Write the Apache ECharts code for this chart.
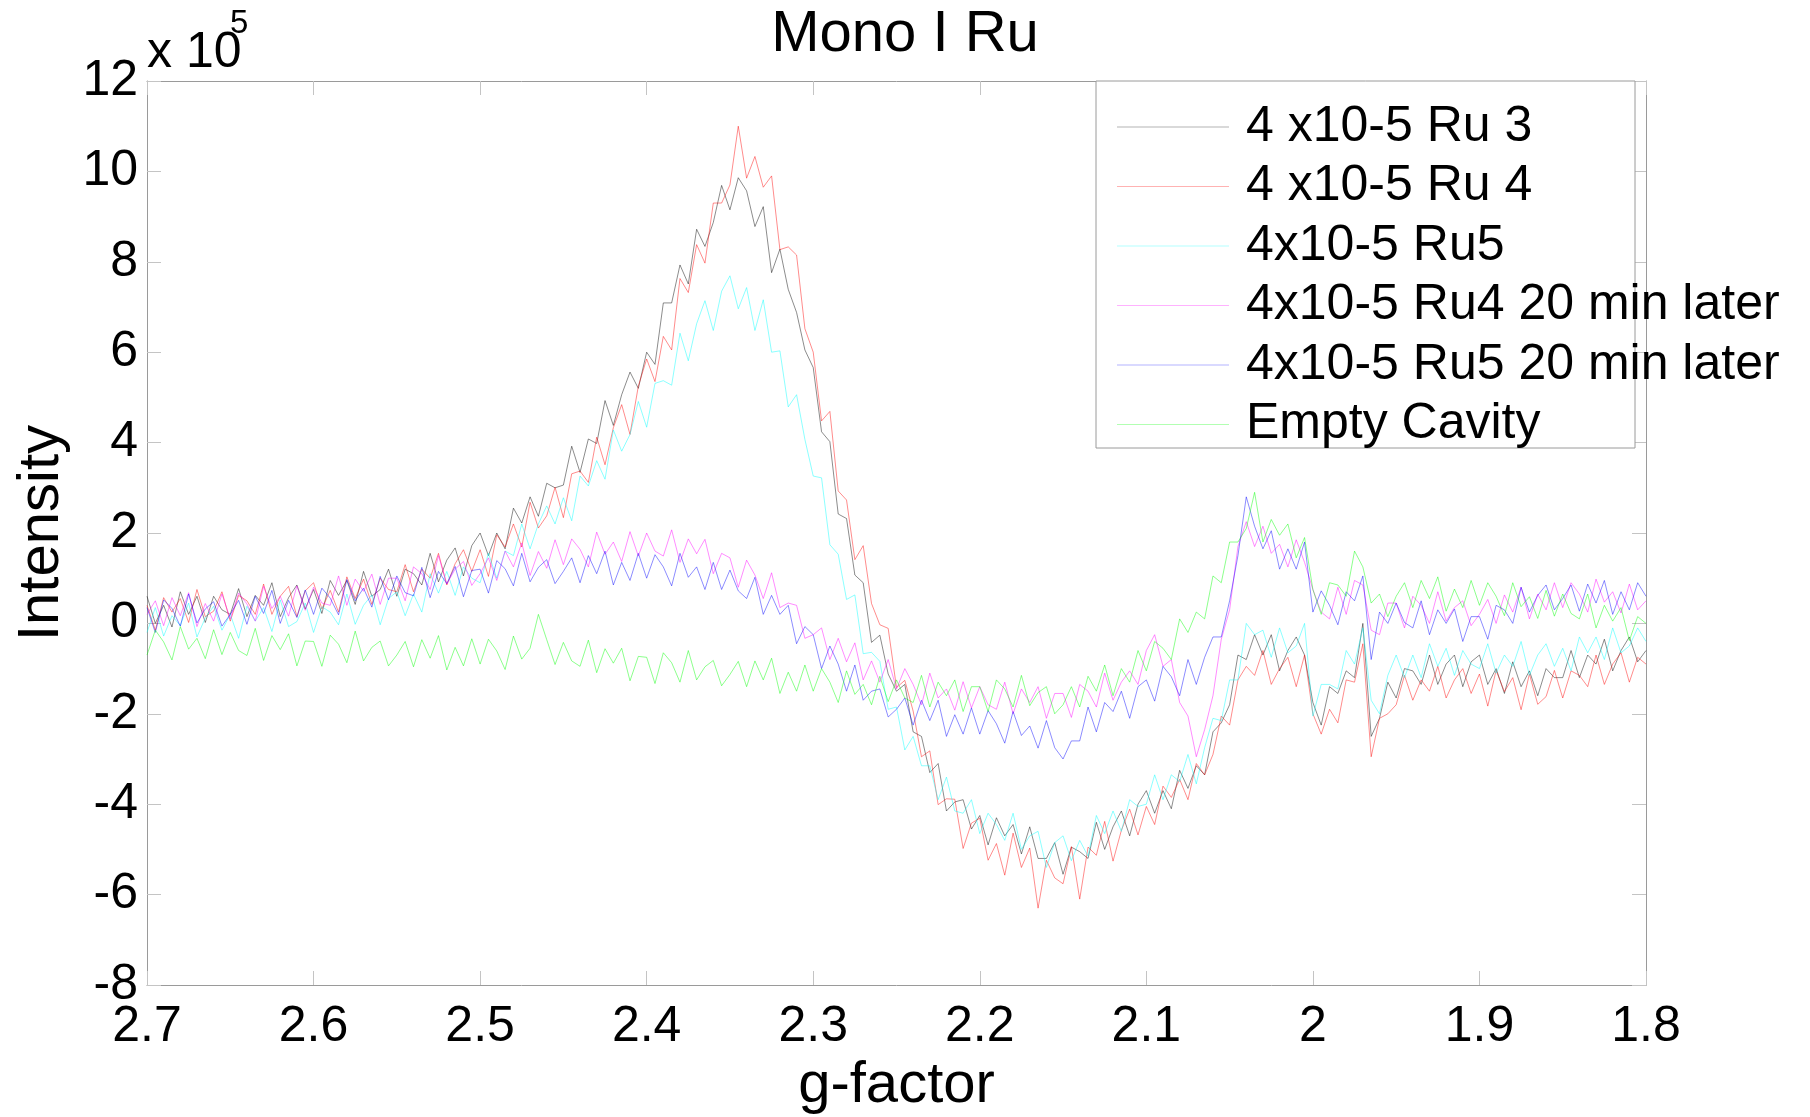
<!DOCTYPE html>
<html>
<head>
<meta charset="utf-8">
<title>Mono I Ru</title>
<script src="https://cdn.jsdelivr.net/npm/echarts@6/dist/echarts.min.js"></script>
<style>
  html, body { margin: 0; padding: 0; background: #fff; }
  #main { width: 1810px; height: 1117px; }
</style>
</head>
<body>
<div id="main"></div>
<script>
// g-factor of every sample (x axis runs from 2.7 down to 1.8)
const gFactor = [
  2.700,2.695,2.690,2.685,2.680,2.675,2.670,2.665,2.660,2.655,
  2.650,2.645,2.640,2.635,2.630,2.625,2.620,2.615,2.610,2.605,
  2.600,2.595,2.590,2.585,2.580,2.575,2.570,2.565,2.560,2.555,
  2.550,2.545,2.540,2.535,2.530,2.525,2.520,2.515,2.510,2.505,
  2.500,2.495,2.490,2.485,2.480,2.475,2.470,2.465,2.460,2.455,
  2.450,2.445,2.440,2.435,2.430,2.425,2.420,2.415,2.410,2.405,
  2.400,2.395,2.390,2.385,2.380,2.375,2.370,2.365,2.360,2.355,
  2.350,2.345,2.340,2.335,2.330,2.325,2.320,2.315,2.310,2.305,
  2.300,2.295,2.290,2.285,2.280,2.275,2.270,2.265,2.260,2.255,
  2.250,2.245,2.240,2.235,2.230,2.225,2.220,2.215,2.210,2.205,
  2.200,2.195,2.190,2.185,2.180,2.175,2.170,2.165,2.160,2.155,
  2.150,2.145,2.140,2.135,2.130,2.125,2.120,2.115,2.110,2.105,
  2.100,2.095,2.090,2.085,2.080,2.075,2.070,2.065,2.060,2.055,
  2.050,2.045,2.040,2.035,2.030,2.025,2.020,2.015,2.010,2.005,
  2.000,1.995,1.990,1.985,1.980,1.975,1.970,1.965,1.960,1.955,
  1.950,1.945,1.940,1.935,1.930,1.925,1.920,1.915,1.910,1.905,
  1.900,1.895,1.890,1.885,1.880,1.875,1.870,1.865,1.860,1.855,
  1.850,1.845,1.840,1.835,1.830,1.825,1.820,1.815,1.810,1.805,
  1.800
];

// intensities, in units of 10^5
const ru3 = [
  0.60,0.00,0.40,-0.08,0.70,0.20,0.60,0.02,0.60,0.30,
  0.20,0.77,0.15,0.62,0.40,0.90,0.15,0.57,0.85,0.32,
  0.75,0.22,0.95,0.62,0.95,0.42,1.15,0.60,0.75,1.20,
  0.60,1.20,1.10,0.85,1.55,0.92,1.40,1.67,1.05,1.72,
  2.00,1.50,2.00,1.65,2.55,2.22,2.80,2.37,3.10,3.00,
  3.06,3.92,3.34,4.08,3.98,4.93,4.38,5.06,5.56,5.20,
  6.00,5.73,7.09,7.09,7.93,7.51,8.72,8.34,8.87,9.69,
  9.15,9.86,9.57,8.78,9.22,7.76,8.28,7.39,6.88,6.05,
  5.66,4.24,4.02,2.42,2.32,1.07,0.90,-0.42,-0.26,-1.12,
  -1.50,-1.35,-2.40,-2.50,-3.30,-3.10,-4.15,-3.95,-3.90,-4.55,
  -4.25,-4.90,-4.30,-4.70,-4.45,-5.10,-4.50,-5.20,-5.20,-4.85,
  -5.55,-4.95,-5.05,-5.20,-4.40,-5.00,-4.50,-4.15,-4.70,-4.00,
  -3.70,-4.20,-3.70,-4.10,-3.25,-3.65,-3.15,-3.35,-2.40,-2.20,
  -1.80,-0.70,-0.80,-0.25,-0.70,-0.25,-1.05,-0.60,-0.30,-0.70,
  -1.75,-2.25,-1.40,-1.55,-1.05,-1.20,0.00,-2.50,-2.10,-1.30,
  -1.65,-1.00,-1.05,-1.35,-0.70,-1.35,-0.90,-0.70,-1.40,-0.85,
  -0.70,-1.35,-1.00,-1.55,-0.85,-1.40,-1.05,-1.60,-1.00,-1.20,
  -1.20,-0.60,-1.20,-0.70,-0.90,-0.35,-1.05,-0.60,-0.30,-0.85,
  -0.60
];
const ru4 = [
  0.40,-0.15,0.57,0.25,0.55,0.02,0.75,0.15,0.27,0.70,
  0.05,0.62,0.50,0.20,0.87,0.20,0.60,0.82,0.15,0.72,
  0.90,0.32,0.73,0.25,1.03,0.55,0.98,0.42,1.00,0.75,
  0.70,1.30,0.70,1.20,1.00,1.55,0.85,1.32,1.63,1.15,
  1.63,1.04,1.96,1.69,2.20,1.69,2.68,2.11,2.38,3.01,
  2.34,3.31,3.37,3.12,4.12,3.51,4.33,4.84,4.18,5.25,
  5.85,5.35,6.35,6.05,7.63,7.32,8.38,7.97,9.30,9.30,
  9.70,11.00,9.85,10.33,9.65,9.90,8.27,8.33,8.15,6.52,
  6.00,4.48,4.69,2.93,2.73,1.41,1.72,0.44,-0.03,-0.11,
  -1.42,-1.26,-1.94,-2.95,-2.82,-4.01,-3.88,-3.89,-4.98,-4.42,
  -4.31,-5.24,-4.87,-5.57,-4.64,-5.40,-4.97,-6.30,-5.24,-5.63,
  -5.76,-4.94,-6.10,-4.95,-5.13,-4.38,-5.26,-4.58,-4.11,-4.68,
  -4.05,-4.45,-3.60,-3.85,-3.45,-3.90,-3.10,-3.35,-2.90,-2.05,
  -2.25,-1.25,-0.95,-1.15,-0.60,-1.35,-1.00,-0.75,-1.40,-0.70,
  -2.00,-2.45,-1.90,-2.20,-1.25,-1.30,-0.45,-2.95,-2.10,-2.00,
  -1.80,-1.15,-1.70,-1.25,-1.50,-0.95,-1.65,-1.25,-1.00,-1.55,
  -1.12,-1.83,-1.04,-1.51,-1.20,-1.91,-1.12,-1.79,-1.62,-1.04,
  -1.65,-1.05,-1.15,-1.40,-0.70,-1.35,-0.90,-0.65,-1.30,-0.75,
  -0.90
];
const ru5 = [
  -0.20,0.35,-0.28,0.17,-0.05,0.45,-0.30,0.12,0.38,-0.15,
  0.20,-0.33,0.38,0.05,0.35,-0.18,0.52,-0.07,0.04,0.45,
  -0.20,0.37,0.25,-0.03,0.65,-0.02,0.40,0.63,-0.03,0.55,
  0.70,0.17,0.65,0.25,1.10,0.67,1.15,0.62,1.25,1.00,
  0.90,1.55,1.00,1.60,1.50,2.20,1.65,2.20,2.60,2.20,
  2.78,2.27,3.26,3.04,3.60,3.19,4.28,3.81,4.18,4.91,
  4.34,5.31,5.37,5.27,6.42,5.81,6.63,7.14,6.48,7.35,
  7.69,6.96,7.43,6.48,7.16,6.00,6.03,4.79,5.06,4.07,
  3.26,3.22,1.74,1.53,0.53,0.63,-0.67,-0.64,-0.84,-1.90,
  -1.85,-2.80,-2.50,-3.15,-3.15,-3.90,-3.40,-4.15,-4.20,-3.90,
  -4.65,-4.20,-4.45,-4.80,-4.20,-5.00,-4.70,-4.60,-5.40,-4.85,
  -4.70,-5.25,-4.80,-5.15,-4.25,-4.65,-4.15,-4.60,-3.90,-4.05,
  -4.00,-3.35,-3.90,-3.35,-3.50,-2.90,-3.55,-2.75,-2.10,-2.15,
  -1.25,-1.25,0.00,-0.25,-0.15,-0.75,-0.10,-0.65,-0.50,0.00,
  -2.05,-1.35,-1.35,-1.45,-0.60,-0.90,-0.10,-1.70,-2.00,-1.15,
  -0.70,-1.20,-0.70,-1.20,-0.45,-0.95,-0.55,-1.15,-0.60,-0.90,
  -1.00,-0.45,-1.10,-0.70,-0.95,-0.40,-1.15,-0.70,-0.45,-0.95,
  -0.55,-1.05,-0.30,-0.65,-0.30,-0.80,-0.10,-0.65,-0.50,-0.10,
  -0.40
];
const ru4Later = [
  0.20,0.50,-0.05,0.57,0.17,0.68,-0.07,0.44,0.05,0.65,
  0.10,0.67,0.43,0.05,0.82,0.33,0.60,0.16,0.83,0.29,
  0.80,0.45,0.40,1.05,0.40,0.98,0.71,1.09,0.42,1.00,
  1.00,0.50,1.25,1.10,0.75,1.50,0.87,1.20,1.37,0.84,
  1.10,1.45,0.95,1.60,1.25,1.78,1.06,1.59,1.22,1.85,
  1.30,1.87,1.64,1.25,2.02,1.53,1.80,1.37,2.03,1.49,
  2.00,1.60,1.49,2.07,1.35,1.87,1.54,1.86,1.10,1.55,
  1.45,0.80,1.40,1.07,0.55,1.12,0.35,0.45,0.40,-0.33,
  -0.25,-0.10,-0.80,-0.33,-0.85,-0.43,-1.25,-0.83,-1.30,-0.80,
  -1.45,-1.00,-1.35,-1.80,-1.10,-1.65,-1.45,-1.92,-1.29,-1.87,
  -1.40,-1.80,-1.90,-1.30,-2.00,-1.45,-1.75,-1.40,-2.10,-1.55,
  -1.55,-2.08,-1.35,-1.50,-1.85,-1.10,-1.70,-1.30,-1.05,-1.35,
  -0.60,-0.25,-0.95,-0.80,-1.75,-2.05,-2.95,-2.35,-1.60,-0.35,
  0.30,1.70,2.25,1.70,2.15,1.55,1.75,1.25,1.85,1.35,
  0.75,0.25,0.10,0.80,0.20,0.95,0.85,-0.15,-0.25,0.45,
  0.45,-0.10,0.60,0.40,0.00,0.70,0.05,0.35,0.50,-0.05,
  0.20,0.53,0.00,0.63,0.25,0.80,0.10,0.65,0.30,0.90,
  0.35,0.90,0.65,0.25,0.98,0.47,0.70,0.23,0.87,0.30,
  0.50
];
const ru5Later = [
  0.35,-0.20,0.52,0.33,-0.06,0.65,0.01,0.32,0.48,-0.06,
  0.20,0.51,-0.02,0.60,0.22,0.73,0.00,0.51,0.13,0.74,
  0.20,0.78,0.56,0.19,0.97,0.50,0.78,0.36,1.04,0.52,
  1.05,0.68,0.61,1.24,0.57,1.15,0.88,1.26,0.59,1.17,
  1.20,0.67,1.39,1.21,0.83,1.55,0.92,1.24,1.41,0.88,
  1.15,1.45,0.90,1.50,1.10,1.60,0.85,1.35,0.95,1.55,
  1.00,1.52,1.25,0.83,1.55,1.02,1.25,0.75,1.35,0.75,
  1.18,0.72,0.55,1.02,0.20,0.62,0.20,0.40,-0.45,-0.07,
  -0.25,-1.00,-0.50,-0.90,-1.50,-0.92,-1.70,-1.50,-1.45,-2.07,
  -1.90,-1.65,-2.25,-1.70,-2.15,-1.70,-2.50,-2.02,-2.45,-1.87,
  -2.45,-1.93,-2.22,-2.65,-1.95,-2.48,-2.27,-2.76,-2.15,-2.75,
  -3.00,-2.60,-2.60,-1.85,-2.40,-1.75,-1.95,-1.50,-2.10,-1.40,
  -1.25,-1.72,-0.95,-1.18,-1.60,-0.80,-1.35,-0.75,-0.30,-0.30,
  0.50,1.50,2.80,2.15,1.65,2.05,1.20,1.65,1.20,1.80,
  0.25,0.72,0.40,-0.03,0.70,0.50,1.05,-0.80,0.25,0.00,
  0.45,0.02,-0.10,0.50,-0.25,0.30,0.00,0.32,-0.40,0.15,
  0.15,-0.35,0.40,0.30,0.00,0.80,0.25,0.62,0.85,0.30,
  0.55,0.85,0.27,0.87,0.45,0.95,0.20,0.70,0.30,0.90,
  0.60
];
const emptyCavity = [
  -0.70,-0.15,-0.41,-0.81,-0.07,-0.57,-0.33,-0.78,-0.14,-0.69,
  -0.20,-0.60,-0.71,-0.11,-0.82,-0.27,-0.58,-0.23,-0.94,-0.39,
  -0.40,-0.95,-0.26,-0.46,-0.87,-0.17,-0.83,-0.53,-0.39,-0.94,
  -0.70,-0.40,-0.96,-0.36,-0.77,-0.27,-1.03,-0.53,-0.94,-0.34,
  -0.90,-0.35,-0.61,-1.02,-0.28,-0.79,-0.55,0.20,-0.36,-0.91,
  -0.42,-0.83,-0.95,-0.37,-1.09,-0.56,-0.88,-0.55,-1.27,-0.73,
  -0.75,-1.33,-0.65,-0.87,-1.30,-0.60,-1.25,-0.96,-0.82,-1.38,
  -1.13,-0.84,-1.40,-0.83,-1.25,-0.77,-1.55,-1.08,-1.50,-0.92,
  -1.50,-1.00,-1.30,-1.75,-1.05,-1.57,-1.35,-1.80,-1.17,-1.73,
  -1.25,-1.65,-1.75,-1.15,-1.85,-1.30,-1.60,-1.25,-1.95,-1.40,
  -1.40,-1.95,-1.25,-1.45,-1.85,-1.15,-1.82,-1.53,-1.40,-2.00,
  -1.80,-1.40,-1.85,-1.17,-1.50,-0.92,-1.60,-1.00,-1.30,-0.60,
  -1.05,-0.40,-0.55,-0.80,0.10,-0.20,0.25,0.10,1.05,0.90,
  1.80,1.80,2.10,2.90,1.80,2.30,1.95,2.20,1.45,1.90,
  0.75,0.20,0.90,0.85,0.60,1.60,1.25,0.45,0.65,0.15,
  0.60,0.90,0.35,0.95,0.55,1.03,0.27,0.76,0.35,0.95,
  0.40,0.90,0.60,0.17,0.90,0.37,0.59,0.11,0.73,0.16,
  0.65,0.22,0.10,0.65,-0.10,0.40,0.05,0.35,-0.38,0.15,
  0.00
];

const seriesNames = ['4 x10-5 Ru 3', '4 x10-5 Ru 4', '4x10-5 Ru5',
  '4x10-5 Ru4 20 min later', '4x10-5 Ru5 20 min later', 'Empty Cavity'];
const seriesValues = [ru3, ru4, ru5, ru4Later, ru5Later, emptyCavity];
const seriesColors = ['#000000', '#ff0000', '#00ffff', '#ff00ff', '#0000ff', '#00ff00'];

const FONT = '"Liberation Sans", Arial, sans-serif';

let myChart = echarts.init(document.getElementById('main'));

// axis box: bottom/left carry labels, top/right only ticks
function xAx(pos, labels) {
  return {
    type: 'value', position: pos, inverse: true,
    min: 1.8, max: 2.7, interval: 0.1,
    axisLine: { show: true, onZero: false, lineStyle: { color: '#9a9a9a', width: 1 } },
    axisTick: { show: true, inside: true, length: 14, lineStyle: { color: '#c4c4c4' } },
    axisLabel: {
      show: labels, color: '#000', fontSize: 50, fontFamily: FONT, margin: 17,
      formatter: v => String(+v.toFixed(1))
    },
    splitLine: { show: false }
  };
}
function yAx(pos, labels) {
  return {
    type: 'value', position: pos,
    min: -8, max: 12, interval: 2,
    axisLine: { show: true, onZero: false, lineStyle: { color: '#9a9a9a', width: 1 } },
    axisTick: { show: true, inside: true, length: 14, lineStyle: { color: '#c4c4c4' } },
    axisLabel: {
      show: labels, color: '#000', fontSize: 50, fontFamily: FONT, margin: 9,
      padding: [10, 0, 0, 0]
    },
    splitLine: { show: false }
  };
}

let xBottom = xAx('bottom', true);
xBottom.name = 'g-factor';
xBottom.nameLocation = 'middle';
xBottom.nameGap = 72;
xBottom.nameTextStyle = { fontSize: 58, color: '#000', fontFamily: FONT };

let yLeft = yAx('left', true);
yLeft.name = 'Intensity';
yLeft.nameLocation = 'middle';
yLeft.nameGap = 76;
yLeft.nameRotate = 90;
yLeft.nameTextStyle = { fontSize: 58, color: '#000', fontFamily: FONT };

let option = {
  animation: false,
  backgroundColor: '#ffffff',
  title: {
    text: 'Mono I Ru', left: 'center', top: 6, padding: 0,
    textStyle: { fontSize: 58, fontWeight: 'normal', color: '#000', fontFamily: FONT }
  },
  grid: { left: 147, right: 164, top: 81, bottom: 132, containLabel: false, outerBoundsMode: 'none' },
  xAxis: [xBottom, xAx('top', false)],
  yAxis: [yLeft, yAx('right', false)],
  legend: {
    orient: 'vertical', left: 1096, top: 81,
    padding: [21, 10, 0, 21],
    icon: 'rect',
    itemWidth: 112, itemHeight: 1, itemGap: 9.5,
    itemStyle: { opacity: 0.3 },
    z: 20,
    data: seriesNames,
    textStyle: { fontSize: 50, lineHeight: 50, color: '#000', fontFamily: FONT, padding: [0, 0, 0, 12] }
  },
  graphic: [
    {
      type: 'rect', z: 10, silent: true,
      shape: { x: 1096, y: 81, width: 539, height: 367 },
      style: { fill: '#ffffff', stroke: '#9a9a9a', lineWidth: 1 }
    },
    {
      type: 'text', z: 10, silent: true,
      style: { text: 'x 10', x: 147, y: 53, fontSize: 50, fontFamily: FONT, fill: '#000', align: 'left', verticalAlign: 'middle' }
    },
    {
      type: 'text', z: 10, silent: true,
      style: { text: '5', x: 230, y: 24, fontSize: 33, fontFamily: FONT, fill: '#000', align: 'left', verticalAlign: 'middle' }
    }
  ],
  series: seriesValues.map((vals, i) => ({
    name: seriesNames[i],
    type: 'line',
    xAxisIndex: 0,
    yAxisIndex: 0,
    data: gFactor.map((g, k) => [g, vals[k]]),
    symbol: 'none',
    showSymbol: false,
    silent: true,
    color: seriesColors[i],
    lineStyle: { width: 1, color: seriesColors[i], opacity: 0.45 },
    emphasis: { disabled: true }
  }))
};

myChart.setOption(option);
</script>
</body>
</html>
